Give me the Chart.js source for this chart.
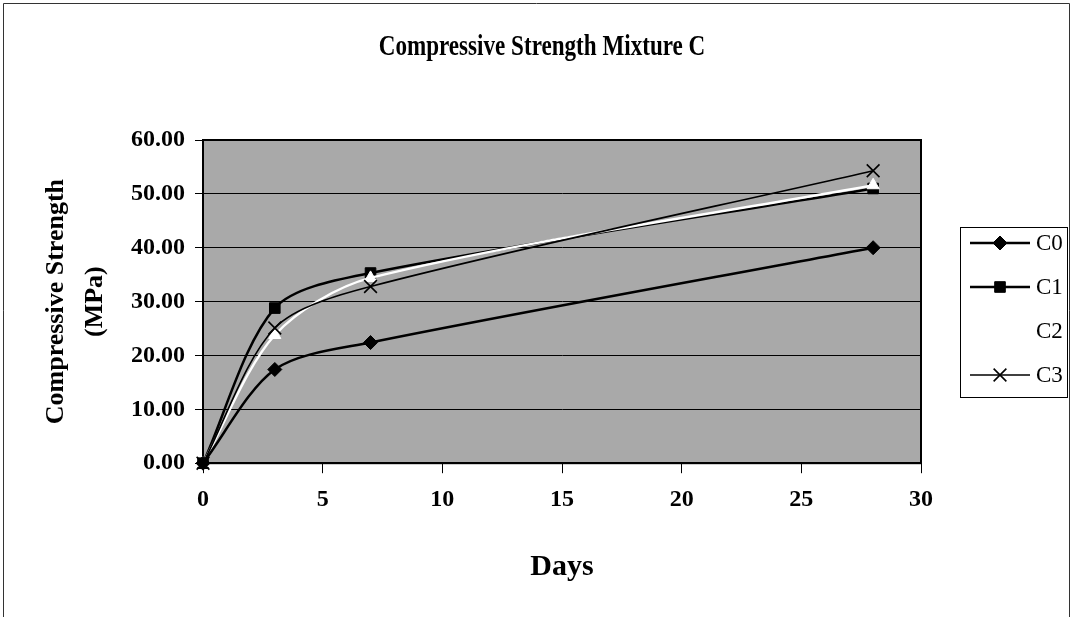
<!DOCTYPE html>
<html>
<head>
<meta charset="utf-8">
<title>Compressive Strength Mixture C</title>
<script src="https://cdn.jsdelivr.net/npm/chart.js@4/dist/chart.umd.min.js"></script>
<style>
  html, body { margin: 0; padding: 0; background: #fff; }
  #wrap { width: 1073px; height: 617px; }
</style>
</head>
<body>
<div id="wrap"><canvas id="strengthChart" width="1073" height="617"></canvas></div>
<script>
// curing age in days
const days = [0, 3, 7, 28];

// compressive strength (MPa) per mix
const c0 = [0, 17.4, 22.4, 40.0];
const c1 = [0, 28.8, 35.3, 51.0];
const c2 = [0, 23.8, 34.4, 51.6];
const c3 = [0, 25.1, 32.8, 54.3];

const seriesNames = ['C0', 'C1', 'C2', 'C3'];

const yTicks = [0, 10, 20, 30, 40, 50, 60];
const xTicks = [0, 5, 10, 15, 20, 25, 30];

const chartTitle = 'Compressive Strength Mixture C';

const serif = "'Liberation Serif', 'Times New Roman', serif";

function toPoints(values) {
    return days.map((d, i) => ({ x: d, y: values[i] }));
}

// white page, thin outer frame, grey plot area and the heading
const pageFrame = {
    id: 'pageFrame',
    beforeDraw(chart) {
        const ctx = chart.ctx;
        ctx.save();
        ctx.fillStyle = '#fff';
        ctx.fillRect(0, 0, chart.width, chart.height);
        ctx.strokeStyle = '#333';
        ctx.lineWidth = 1;
        ctx.beginPath();
        ctx.moveTo(3.5, chart.height);
        ctx.lineTo(3.5, 3.5);
        ctx.lineTo(chart.width - 3.5, 3.5);
        ctx.lineTo(chart.width - 3.5, chart.height);
        ctx.stroke();

        const a = chart.chartArea;
        ctx.fillStyle = '#a9a9a9';
        ctx.fillRect(a.left, a.top, a.right - a.left, a.bottom - a.top);

        // heading is centred on the whole page, set in a narrow bold face
        ctx.translate(542, 47);
        ctx.scale(0.77, 1);
        ctx.fillStyle = '#000';
        ctx.font = 'bold 30px ' + serif;
        ctx.textAlign = 'center';
        ctx.textBaseline = 'middle';
        ctx.fillText(chartTitle, 0, 0);
        ctx.restore();
    },
    beforeDatasetsDraw(chart) {
        const ctx = chart.ctx;
        const a = chart.chartArea;
        ctx.save();
        ctx.strokeStyle = '#000';
        ctx.lineWidth = 2;
        ctx.strokeRect(a.left, a.top, a.right - a.left, a.bottom - a.top);
        ctx.restore();
    }
};

// boxed legend to the right of the plot
const sideLegend = {
    id: 'sideLegend',
    afterDraw(chart) {
        const ctx = chart.ctx;
        const box = { left: 960, top: 227, width: 107, height: 170 };
        ctx.save();
        ctx.fillStyle = '#fff';
        ctx.fillRect(box.left, box.top, box.width, box.height);
        ctx.strokeStyle = '#000';
        ctx.lineWidth = 1;
        ctx.strokeRect(box.left + 0.5, box.top + 0.5, box.width, box.height);

        chart.data.datasets.forEach((ds, i) => {
            const y = box.top + 16 + i * 44;
            const x0 = box.left + 10;
            const x1 = box.left + 70;
            ctx.strokeStyle = ds.borderColor;
            ctx.lineWidth = ds.borderWidth;
            ctx.beginPath();
            ctx.moveTo(x0, y);
            ctx.lineTo(x1, y);
            ctx.stroke();

            ctx.fillStyle = ds.pointBackgroundColor;
            ctx.strokeStyle = ds.pointBorderColor;
            ctx.lineWidth = ds.pointBorderWidth;
            Chart.helpers.drawPoint(ctx, {
                pointStyle: ds.pointStyle,
                radius: ds.pointRadius,
                borderWidth: ds.pointBorderWidth,
                rotation: 0
            }, (x0 + x1) / 2, y);

            ctx.fillStyle = '#000';
            ctx.font = '23px ' + serif;
            ctx.textAlign = 'left';
            ctx.textBaseline = 'middle';
            ctx.fillText(ds.label, x1 + 6, y + 1);
        });
        ctx.restore();
    }
};

const ctx = document.getElementById('strengthChart').getContext('2d');

new Chart(ctx, {
    type: 'line',
    data: {
        datasets: [
            {
                label: seriesNames[0],
                data: toPoints(c0),
                borderColor: '#000',
                borderWidth: 2.5,
                pointStyle: 'rectRot',
                pointRadius: 7,
                pointBackgroundColor: '#000',
                pointBorderColor: '#000',
                pointBorderWidth: 1,
                order: 0
            },
            {
                label: seriesNames[1],
                data: toPoints(c1),
                borderColor: '#000',
                borderWidth: 2.5,
                pointStyle: 'rect',
                pointRadius: 7.5,
                pointBackgroundColor: '#000',
                pointBorderColor: '#000',
                pointBorderWidth: 1,
                order: 3
            },
            {
                label: seriesNames[2],
                data: toPoints(c2),
                borderColor: '#fff',
                borderWidth: 2.5,
                pointStyle: 'triangle',
                pointRadius: 7,
                pointBackgroundColor: '#fff',
                pointBorderColor: '#fff',
                pointBorderWidth: 1,
                order: 2
            },
            {
                label: seriesNames[3],
                data: toPoints(c3),
                borderColor: '#000',
                borderWidth: 1.6,
                pointStyle: 'crossRot',
                pointRadius: 9,
                pointBackgroundColor: '#000',
                pointBorderColor: '#000',
                pointBorderWidth: 1.6,
                order: 1
            }
        ]
    },
    options: {
        responsive: false,
        animation: false,
        layout: { padding: { left: 0, right: 152, top: 140, bottom: 0 } },
        datasets: { line: { clip: false, tension: 0.3 } },
        plugins: {
            legend: { display: false },
            tooltip: { enabled: false },
            title: { display: false }
        },
        scales: {
            x: {
                type: 'linear',
                min: xTicks[0],
                max: xTicks[xTicks.length - 1],
                afterBuildTicks: axis => { axis.ticks = xTicks.map(v => ({ value: v })); },
                ticks: {
                    color: '#000',
                    font: { family: serif, size: 24, weight: 'bold' },
                    padding: 12
                },
                grid: { drawOnChartArea: false, color: '#000', tickLength: 10, lineWidth: 1 },
                border: { color: '#000', width: 2 },
                title: {
                    display: true,
                    text: 'Days',
                    color: '#000',
                    font: { family: serif, size: 30, weight: 'bold' },
                    padding: { top: 23, bottom: 32 }
                }
            },
            y: {
                min: yTicks[0],
                max: yTicks[yTicks.length - 1],
                afterBuildTicks: axis => { axis.ticks = yTicks.map(v => ({ value: v })); },
                ticks: {
                    color: '#000',
                    font: { family: serif, size: 24, weight: 'bold' },
                    padding: 10,
                    callback: v => v.toFixed(2)
                },
                grid: { color: '#000', lineWidth: 1, tickLength: 8 },
                border: { color: '#000', width: 2 },
                title: {
                    display: true,
                    text: ['Compressive Strength', '(MPa)'],
                    color: '#000',
                    font: { family: serif, size: 26, weight: 'bold', lineHeight: 1.5 },
                    padding: { top: 37, bottom: 6 }
                }
            }
        }
    },
    plugins: [pageFrame, sideLegend]
});
</script>
</body>
</html>
